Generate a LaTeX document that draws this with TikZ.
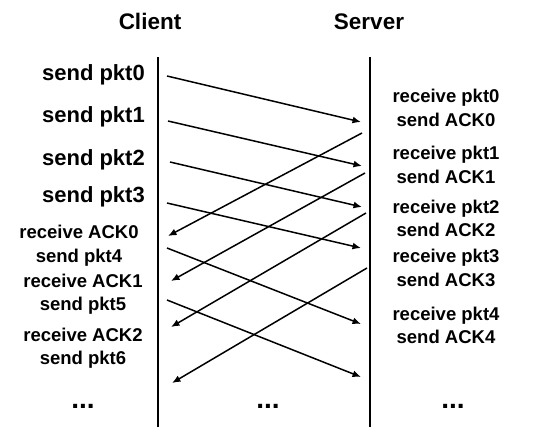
\documentclass[tikz,border=0pt]{standalone}
\usepackage{fontspec}
\setmainfont{Liberation Sans}
\usetikzlibrary{arrows.meta}
\begin{document}
\begin{tikzpicture}[x=1pt,y=-1pt,
  head/.style={font=\bfseries\fontsize{22.5}{26}\selectfont, anchor=base, inner sep=0pt},
  biglab/.style={font=\bfseries\fontsize{22}{26}\selectfont, anchor=base east, inner sep=0pt},
  lab/.style={font=\bfseries\fontsize{18.5}{22}\selectfont, anchor=base, inner sep=0pt},
  dotlab/.style={font=\bfseries\fontsize{28}{30}\selectfont, anchor=base, inner sep=0pt},
  timeline/.style={line width=1.8pt},
  msg/.style={line width=1.5pt, -{Latex[length=8.5pt,width=7pt]}}]
\useasboundingbox[fill=white] (0,0) rectangle (535,442);

% headers
\node[head] (client) at (150,29) {Client};
\node[head] (server) at (369,29) {Server};

% timelines
\coordinate (ctop) at (158,57);
\coordinate (cbot) at (158,427);
\coordinate (stop) at (370,57);
\coordinate (sbot) at (370,427);
\draw[timeline] (ctop) -- (cbot);
\draw[timeline] (stop) -- (sbot);

% client labels
\node[biglab] (c0) at (145,80) {send pkt0};
\node[biglab] (c1) at (145,122) {send pkt1};
\node[biglab] (c2) at (145,165) {send pkt2};
\node[biglab] (c3) at (145,202) {send pkt3};
\node[lab] (ca0) at (79,238) {receive ACK0};
\node[lab] (c4) at (79,262) {send pkt4};
\node[lab] (ca1) at (83,287) {receive ACK1};
\node[lab] (c5) at (83,310) {send pkt5};
\node[lab] (ca2) at (83,341) {receive ACK2};
\node[lab] (c6) at (83,364) {send pkt6};
\node[dotlab] (cdots) at (83,408) {...};
\node[dotlab] (mdots) at (268,408) {...};

% server labels
\node[lab] (s0) at (446,102) {receive pkt0};
\node[lab] (sa0) at (446,126) {send ACK0};
\node[lab] (s1) at (446,159) {receive pkt1};
\node[lab] (sa1) at (446,183) {send ACK1};
\node[lab] (s2) at (446,213) {receive pkt2};
\node[lab] (sa2) at (446,236) {send ACK2};
\node[lab] (s3) at (446,262) {receive pkt3};
\node[lab] (sa3) at (446,286) {send ACK3};
\node[lab] (s4) at (446,320) {receive pkt4};
\node[lab] (sa4) at (446,343) {send ACK4};
\node[dotlab] (sdots) at (453,408) {...};

% packet endpoints
\coordinate (p0a) at (167,76);  \coordinate (p0b) at (361,122);
\coordinate (p1a) at (168,121); \coordinate (p1b) at (362,166);
\coordinate (p2a) at (170,162); \coordinate (p2b) at (362,207);
\coordinate (p3a) at (167,203); \coordinate (p3b) at (361,248);
\coordinate (p4a) at (167,248); \coordinate (p4b) at (361,324);
\coordinate (p5a) at (167,300); \coordinate (p5b) at (361,377);
% ack endpoints
\coordinate (a0a) at (362,133); \coordinate (a0b) at (168,236);
\coordinate (a1a) at (365,173); \coordinate (a1b) at (171,281);
\coordinate (a2a) at (366,213); \coordinate (a2b) at (171,327);
\coordinate (a3a) at (367,268); \coordinate (a3b) at (172,383);

\draw[msg] (p0a) -- (p0b);
\draw[msg] (p1a) -- (p1b);
\draw[msg] (p2a) -- (p2b);
\draw[msg] (p3a) -- (p3b);
\draw[msg] (p4a) -- (p4b);
\draw[msg] (p5a) -- (p5b);
\draw[msg] (a0a) -- (a0b);
\draw[msg] (a1a) -- (a1b);
\draw[msg] (a2a) -- (a2b);
\draw[msg] (a3a) -- (a3b);
\end{tikzpicture}
\end{document}
